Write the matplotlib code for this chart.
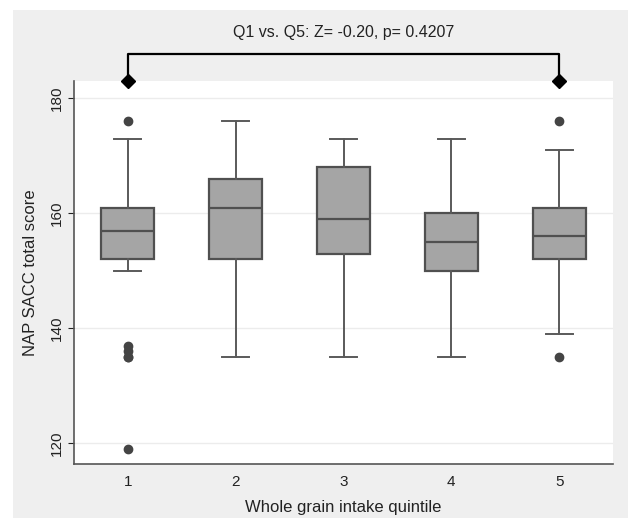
import matplotlib
matplotlib.use("Agg")
import matplotlib.pyplot as plt
from matplotlib.patches import Rectangle

plt.rcParams['font.family'] = ['Liberation Sans', 'DejaVu Sans']

quintiles = [1, 2, 3, 4, 5]
# box stats: lower quartile, median, upper quartile, whiskers
lower_q = [152, 152, 153, 150, 152]
medians = [157, 161, 159, 155, 156]
upper_q = [161, 166, 168, 160, 161]
whisk_lo = [150, 135, 135, 135, 139]
whisk_hi = [173, 176, 173, 173, 171]
outliers = [[176, 137, 136, 135, 135, 119], [], [], [], [176, 135]]

test_text = "Q1 vs. Q5: Z= -0.20, p= 0.4207"
bracket_low = 183
bracket_high = 187.7
text_y = 191.5

fig = plt.figure(figsize=(6.32, 5.19), dpi=100)
fig.patch.set_facecolor('white')
fig.patches.append(Rectangle((13 / 632, 1 / 519), 615 / 632, 508 / 519,
                             transform=fig.transFigure, facecolor='#efefef',
                             edgecolor='none', zorder=-10))

ax = fig.add_axes([74 / 632, 1 - 464 / 519, 539 / 632, 383 / 519])
ax.set_facecolor('white')

stats = []
for i in range(5):
    stats.append(dict(med=medians[i], q1=lower_q[i], q3=upper_q[i],
                      whislo=whisk_lo[i], whishi=whisk_hi[i], fliers=outliers[i]))

ax.bxp(stats, positions=quintiles, widths=0.49, patch_artist=True,
       boxprops=dict(facecolor='#a5a5a5', edgecolor='#505050', linewidth=1.6),
       medianprops=dict(color='#505050', linewidth=1.6),
       whiskerprops=dict(color='#5a5a5a', linewidth=1.4),
       capprops=dict(color='#5a5a5a', linewidth=1.4),
       flierprops=dict(marker='o', markerfacecolor='#444444', markeredgecolor='#444444',
                       markersize=6), capwidths=0.25)

ax.set_xlim(0.5, 5.5)
ax.set_ylim(116.4, 183)
ax.set_yticks([120, 140, 160, 180])
ax.set_xticks(quintiles)
ax.set_xticklabels([str(q) for q in quintiles])
ax.grid(axis='y', color='#ececec', linewidth=1)
ax.set_axisbelow(True)
for s in ['top', 'right']:
    ax.spines[s].set_visible(False)
for s in ['left', 'bottom']:
    ax.spines[s].set_color('#555555')
    ax.spines[s].set_linewidth(1.2)
ax.tick_params(axis='y', labelrotation=90, labelsize=11, colors='#222222', length=4)
ax.tick_params(axis='x', labelsize=11, colors='#222222', length=0, pad=8)
for lab in ax.get_yticklabels():
    lab.set_va('center')
ax.set_ylabel("NAP SACC total score", fontsize=12, color='#222222', labelpad=8)
ax.set_xlabel("Whole grain intake quintile", fontsize=12, color='#222222', labelpad=8)

# comparison bracket above the plot
ax.plot([1, 1, 5, 5], [bracket_low, bracket_high, bracket_high, bracket_low],
        color='black', linewidth=1.6, clip_on=False)
ax.plot([1, 5], [bracket_low, bracket_low], 'D', color='black', markersize=7, clip_on=False)
ax.text(3, text_y, test_text, ha='center', va='center', fontsize=11.5, color='#222222')

fig.savefig("out.png", dpi=100, facecolor=fig.get_facecolor())
